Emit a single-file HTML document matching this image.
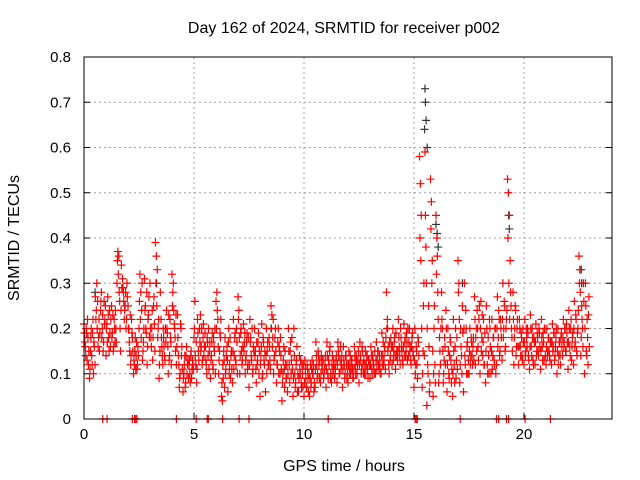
<!DOCTYPE html>
<html><head><meta charset="utf-8">
<style>
html,body{margin:0;padding:0;background:#fff;}
svg{display:block;font-family:"Liberation Sans",sans-serif;}
</style></head>
<body>
<svg id="chart" width="640" height="480" viewBox="0 0 640 480">
<rect x="0" y="0" width="640" height="480" fill="#fff"/>
<text x="344" y="33" text-anchor="middle" font-size="16">Day 162 of 2024, SRMTID for receiver p002</text>
<text x="344" y="471" text-anchor="middle" font-size="16">GPS time / hours</text>
<text transform="translate(19,238) rotate(-90)" text-anchor="middle" font-size="16">SRMTID / TECUs</text>
<g id="grid"></g>
<g id="ticks"></g>
<g id="black-series"></g>
<g id="red-series"></g>
<rect x="84" y="57" width="528" height="362" fill="none" stroke="#000" stroke-width="1"/>
</svg>
<script>
const xTicks=[0,5,10,15,20];
const yTicks=[0,0.1,0.2,0.3,0.4,0.5,0.6,0.7,0.8];
const yTickLabels=["0","0.1","0.2","0.3","0.4","0.5","0.6","0.7","0.8"];
const blockTimes=[0,0.25,0.5,0.75,1,1.25,1.5,1.75,2,2.25,2.5,2.75,3,3.25,3.5,3.75,4,4.25,4.5,4.75,5,5.25,5.5,5.75,6,6.25,6.5,6.75,7,7.25,7.5,7.75,8,8.25,8.5,8.75,9,9.25,9.5,9.75,10,10.25,10.5,10.75,11,11.25,11.5,11.75,12,12.25,12.5,12.75,13,13.25,13.5,13.75,14,14.25,14.5,14.75,15,15.25,15.5,15.75,16,16.25,16.5,16.75,17,17.25,17.5,17.75,18,18.25,18.5,18.75,19,19.25,19.5,19.75,20,20.25,20.5,20.75,21,21.25,21.5,21.75,22,22.25,22.5,22.75];
const blockValues=[
[0.21,0.17,0.14,0.19,0.22,0.12],[0.09,0.15,0.2,0.12,0.22,0.17],[0.12,0.22,0.3,0.26,0.18,0.15],[0.24,0.28,0.2,0.15,0.26,0.22],
[0.14,0.21,0.27,0.18,0.24,0.16],[0.25,0.19,0.15,0.22,0.17,0.2],[0.3,0.37,0.36,0.26,0.15,0.34],[0.31,0.28,0.22,0.25,0.2,0.3],
[0.25,0.2,0.15,0.12,0.22,0.18],[0.1,0.12,0.18,0.14,0.11,0.16],[0.2,0.32,0.28,0.24,0.13,0.17],[0.31,0.25,0.19,0.12,0.22,0.27],
[0.3,0.18,0.2,0.13,0.25,0.21],[0.39,0.36,0.33,0.2,0.09,0.15],[0.22,0.16,0.12,0.18,0.14,0.2],[0.24,0.19,0.1,0.13,0.22,0.17],
[0.32,0.28,0.24,0.2,0.15,0.12],[0.23,0.14,0.07,0.1,0.2,0.16],[0.06,0.1,0.14,0.08,0.16,0.12],[0.09,0.13,0.08,0.15,0.11,0.12],
[0.18,0.26,0.12,0.08,0.22,0.15],[0.2,0.23,0.16,0.12,0.18,0.14],[0.19,0.13,0.1,0.17,0.2,0.15],[0.09,0.14,0.19,0.11,0.16,0.2],
[0.26,0.28,0.22,0.1,0.15,0.18],[0.05,0.04,0.09,0.13,0.18,0.11],[0.16,0.06,0.2,0.12,0.09,0.15],[0.08,0.22,0.14,0.19,0.12,0.17],
[0.27,0.24,0.1,0.19,0.15,0.13],[0.21,0.17,0.1,0.14,0.19,0.12],[0.07,0.22,0.18,0.13,0.1,0.16],[0.2,0.15,0.08,0.12,0.17,0.1],
[0.05,0.14,0.21,0.1,0.17,0.12],[0.06,0.2,0.15,0.12,0.18,0.13],[0.25,0.23,0.18,0.1,0.14,0.2],[0.08,0.12,0.2,0.16,0.1,0.14],
[0.04,0.1,0.16,0.07,0.12,0.09],[0.06,0.2,0.12,0.15,0.1,0.18],[0.05,0.2,0.1,0.08,0.13,0.06],[0.06,0.14,0.1,0.08,0.12,0.07],
[0.05,0.13,0.09,0.07,0.11,0.06],[0.05,0.12,0.08,0.13,0.1,0.06],[0.07,0.17,0.12,0.1,0.14,0.09],[0.08,0.14,0.11,0.13,0.1,0.12],
[0.07,0.17,0.1,0.13,0.15,0.09],[0.08,0.14,0.11,0.12,0.1,0.13],[0.08,0.17,0.14,0.1,0.16,0.12],[0.07,0.16,0.12,0.1,0.14,0.09],
[0.08,0.15,0.12,0.1,0.13,0.11],[0.09,0.16,0.12,0.14,0.1,0.13],[0.08,0.17,0.13,0.11,0.15,0.1],[0.1,0.15,0.12,0.14,0.09,0.13],
[0.09,0.16,0.11,0.14,0.12,0.1],[0.1,0.17,0.13,0.15,0.11,0.12],[0.1,0.19,0.14,0.12,0.16,0.11],[0.28,0.22,0.16,0.1,0.13,0.18],
[0.12,0.2,0.15,0.18,0.11,0.14],[0.13,0.22,0.16,0.12,0.18,0.15],[0.12,0.21,0.17,0.14,0.19,0.13],[0.14,0.2,0.16,0.12,0.18,0.15],
[0.07,0.2,0.12,0.15,0.09,0.17],[0.58,0.52,0.45,0.07,0.15,0.3],[0.59,0.38,0.03,0.12,0.25,0.06],[0.53,0.48,0.35,0.05,0.2,0.12],
[0.45,0.4,0.28,0.08,0.18,0.12],[0.28,0.2,0.08,0.13,0.16,0.24],[0.06,0.2,0.1,0.14,0.17,0.08],[0.05,0.22,0.12,0.16,0.09,0.18],
[0.35,0.3,0.08,0.2,0.14,0.25],[0.06,0.3,0.12,0.2,0.16,0.1],[0.1,0.2,0.14,0.17,0.12,0.18],[0.27,0.12,0.2,0.24,0.16,0.22],
[0.1,0.26,0.18,0.14,0.22,0.12],[0.08,0.25,0.12,0.18,0.1,0.2],[0.1,0.22,0.14,0.18,0.12,0.2],[0.12,0.27,0.18,0.22,0.15,0.2],
[0.13,0.3,0.2,0.25,0.16,0.22],[0.53,0.5,0.45,0.35,0.25,0.18],[0.28,0.12,0.2,0.24,0.16,0.22],[0.12,0.22,0.16,0.19,0.14,0.2],
[0.12,0.22,0.15,0.18,0.2,0.14],[0.11,0.23,0.16,0.2,0.13,0.18],[0.12,0.21,0.15,0.18,0.14,0.19],[0.11,0.22,0.16,0.19,0.13,0.2],
[0.12,0.2,0.15,0.18,0.14,0.17],[0.12,0.21,0.16,0.19,0.14,0.18],[0.1,0.2,0.14,0.17,0.12,0.19],[0.14,0.22,0.17,0.2,0.15,0.19],
[0.11,0.24,0.16,0.2,0.13,0.18],[0.12,0.26,0.17,0.22,0.14,0.2],[0.36,0.33,0.14,0.25,0.2,0.3],[0.1,0.3,0.15,0.22,0.12,0.27]
];
const blockValuesB=[
[0.19,0.16,0.2,0.13,0.18,0.15],[0.11,0.18,0.14,0.19,0.1,0.16],[0.27,0.24,0.2,0.16,0.22,0.19],[0.26,0.18,0.23,0.17,0.21,0.25],
[0.2,0.17,0.23,0.15,0.19,0.22],[0.18,0.23,0.16,0.2,0.24,0.17],[0.35,0.32,0.28,0.2,0.24,0.29],[0.29,0.26,0.24,0.28,0.22,0.27],
[0.2,0.17,0.23,0.14,0.19,0.15],[0.13,0.15,0.11,0.17,0.12,0.14],[0.26,0.22,0.18,0.3,0.15,0.2],[0.24,0.2,0.28,0.16,0.23,0.18],
[0.2,0.16,0.24,0.18,0.27,0.15],[0.3,0.25,0.18,0.22,0.12,0.28],[0.18,0.14,0.2,0.16,0.13,0.17],[0.2,0.16,0.23,0.14,0.18,0.12],
[0.25,0.3,0.21,0.18,0.23,0.16],[0.18,0.12,0.09,0.21,0.14,0.11],[0.09,0.12,0.07,0.14,0.1,0.13],[0.12,0.1,0.14,0.09,0.13,0.11],
[0.2,0.14,0.17,0.11,0.19,0.13],[0.17,0.15,0.2,0.13,0.21,0.16],[0.16,0.12,0.18,0.14,0.11,0.17],[0.13,0.17,0.12,0.18,0.15,0.1],
[0.2,0.24,0.16,0.13,0.19,0.22],[0.08,0.12,0.15,0.07,0.1,0.14],[0.13,0.17,0.1,0.18,0.14,0.11],[0.15,0.11,0.18,0.13,0.2,0.1],
[0.22,0.18,0.14,0.2,0.12,0.16],[0.15,0.19,0.13,0.17,0.11,0.18],[0.12,0.17,0.14,0.2,0.11,0.15],[0.14,0.11,0.17,0.13,0.19,0.15],
[0.12,0.16,0.09,0.18,0.13,0.15],[0.14,0.1,0.17,0.12,0.16,0.11],[0.2,0.16,0.22,0.13,0.18,0.15],[0.12,0.17,0.1,0.15,0.18,0.11],
[0.08,0.13,0.11,0.15,0.09,0.12],[0.1,0.15,0.08,0.17,0.13,0.11],[0.09,0.14,0.07,0.12,0.16,0.1],[0.09,0.11,0.13,0.07,0.1,0.12],
[0.08,0.11,0.07,0.12,0.09,0.1],[0.09,0.07,0.11,0.1,0.12,0.08],[0.11,0.14,0.09,0.15,0.12,0.13],[0.1,0.12,0.13,0.09,0.11,0.14],
[0.11,0.14,0.09,0.12,0.16,0.1],[0.12,0.1,0.13,0.09,0.11,0.14],[0.12,0.15,0.1,0.13,0.11,0.14],[0.11,0.13,0.09,0.14,0.12,0.1],
[0.12,0.1,0.14,0.11,0.13,0.09],[0.11,0.14,0.1,0.13,0.12,0.15],[0.12,0.14,0.1,0.16,0.12,0.13],[0.12,0.1,0.14,0.11,0.13,0.12],
[0.12,0.14,0.1,0.13,0.11,0.15],[0.13,0.11,0.15,0.12,0.14,0.1],[0.14,0.12,0.17,0.13,0.15,0.18],[0.2,0.15,0.12,0.17,0.14,0.16],
[0.16,0.13,0.17,0.14,0.19,0.15],[0.15,0.18,0.14,0.2,0.16,0.13],[0.16,0.14,0.18,0.15,0.17,0.2],[0.17,0.15,0.13,0.16,0.19,0.14],
[0.13,0.1,0.16,0.12,0.18,0.14],[0.4,0.35,0.2,0.1,0.25,0.14],[0.45,0.3,0.2,0.1,0.16,0.08],[0.42,0.3,0.15,0.1,0.25,0.08],
[0.32,0.36,0.22,0.1,0.15,0.2],[0.22,0.15,0.1,0.18,0.12,0.2],[0.12,0.15,0.09,0.18,0.13,0.11],[0.1,0.15,0.08,0.2,0.13,0.11],
[0.28,0.22,0.12,0.16,0.1,0.19],[0.2,0.14,0.24,0.1,0.17,0.13],[0.15,0.12,0.18,0.14,0.16,0.13],[0.22,0.18,0.15,0.2,0.13,0.25],
[0.2,0.15,0.23,0.17,0.12,0.19],[0.15,0.2,0.1,0.14,0.22,0.16],[0.15,0.11,0.18,0.13,0.2,0.1],[0.2,0.16,0.24,0.14,0.22,0.18],
[0.22,0.18,0.26,0.15,0.2,0.24],[0.4,0.3,0.22,0.28,0.2,0.15],[0.22,0.18,0.25,0.14,0.2,0.16],[0.16,0.2,0.14,0.18,0.13,0.17],
[0.17,0.14,0.2,0.16,0.19,0.13],[0.16,0.2,0.14,0.18,0.12,0.17],[0.17,0.14,0.19,0.15,0.2,0.16],[0.15,0.18,0.13,0.17,0.2,0.14],
[0.16,0.14,0.18,0.15,0.13,0.17],[0.17,0.15,0.19,0.13,0.16,0.2],[0.15,0.12,0.17,0.14,0.18,0.16],[0.18,0.16,0.2,0.15,0.21,0.17],
[0.17,0.2,0.14,0.22,0.16,0.19],[0.2,0.16,0.23,0.15,0.19,0.24],[0.3,0.28,0.18,0.22,0.16,0.26],[0.2,0.25,0.14,0.18,0.23,0.16]
];
const zeroTimes=[0.85,1.05,2.2,2.3,2.35,2.4,4.2,5.1,5.6,5.65,6.3,7.05,7.5,11.1,15.05,15.1,15.15,17.1,18.75,18.85,19.2,19.3,20.05,21.2];
const blackTimes=[15.5,15.52,15.55,15.48,15.6,16.0,16.05,16.1,19.3,19.33,22.6,22.62,17.2,0.5,13.8,3.3,8.5,12.0];
const blackValues=[0.73,0.7,0.66,0.64,0.6,0.43,0.41,0.38,0.45,0.42,0.33,0.3,0.3,0.28,0.2,0.3,0.2,0.12];

const X0=84,X1=612,Y0=419,Y1=57;
const xs=t=>X0+(t/24)*(X1-X0);
const ys=v=>Y0-(v/0.8)*(Y0-Y1);
const NS="http://www.w3.org/2000/svg";
function mk(tag,attrs,parent){const e=document.createElementNS(NS,tag);for(const k in attrs)e.setAttribute(k,attrs[k]);parent.appendChild(e);return e;}
const grid=document.getElementById('grid'),ticks=document.getElementById('ticks');
xTicks.forEach(t=>{
  const x=xs(t);
  if(t>0){const l=mk('line',{x1:x,x2:x,y1:Y1,y2:Y0,stroke:'#a0a0a0','stroke-dasharray':'2,3'},grid);
  
  }
  mk('line',{x1:x,x2:x,y1:Y0,y2:Y0-6,stroke:'#000'},ticks);
  const tx=mk('text',{x:x,y:Y0+20,'text-anchor':'middle','font-size':'15'},ticks);
  tx.textContent=t;
  
  
});
yTicks.forEach((v,i)=>{
  const y=ys(v);
  if(v>0&&v<0.8){const l=mk('line',{x1:X0,x2:X1,y1:y,y2:y,stroke:'#a0a0a0','stroke-dasharray':'2,3'},grid);
  
  }
  mk('line',{x1:X0,x2:X0+6,y1:y,y2:y,stroke:'#000'},ticks);
  mk('line',{x1:X1,x2:X1-6,y1:y,y2:y,stroke:'#000'},ticks);
  const tx=mk('text',{x:X0-13,y:y+5,'text-anchor':'end','font-size':'15'},ticks);
  tx.textContent=yTickLabels[i];
  
  
});
function plus(g,x,y,color,name){
  const p=mk('path',{d:`M${x-4},${y}H${x+4}M${x},${y-4}V${y+4}`,stroke:color,'stroke-width':'1.2',fill:'none'},g);
  
  
}
const bg=document.getElementById('black-series'),rg=document.getElementById('red-series');
blackTimes.forEach((t,i)=>plus(bg,xs(t),ys(blackValues[i]),'#333','black-point'));
blockTimes.forEach((t,i)=>{
  blockValues[i].forEach((v,j)=>plus(rg,xs(t+j*0.04),ys(v),'#f00','red-point'));
  blockValuesB[i].forEach((v,j)=>plus(rg,xs(t+0.02+j*0.04),ys(v),'#f00','red-point'));
});
zeroTimes.forEach(t=>plus(rg,xs(t),ys(0),'#f00','zero-point'));
</script>
</body></html>
